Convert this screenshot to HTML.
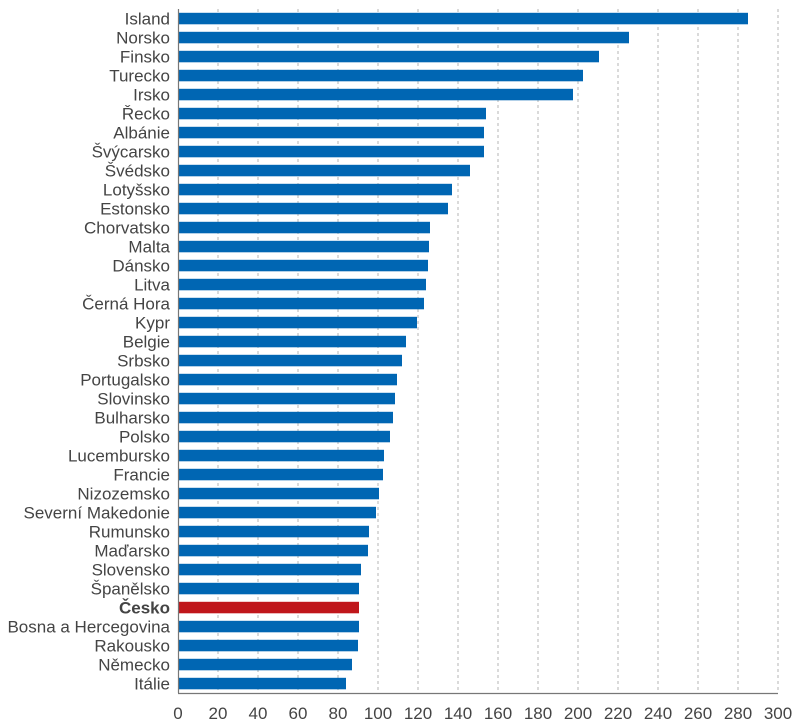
<!DOCTYPE html>
<html><head><meta charset="utf-8"><style>
html,body{margin:0;padding:0;background:#fff;}
svg{display:block;font-family:"Liberation Sans",sans-serif;}
</style></head><body>
<svg width="800" height="724" viewBox="0 0 800 724" xmlns="http://www.w3.org/2000/svg">
<g stroke="#b5b5b5" stroke-width="1" stroke-dasharray="3,3">
<line x1="218" y1="9" x2="218" y2="693"/><line x1="258" y1="9" x2="258" y2="693"/>
<line x1="298" y1="9" x2="298" y2="693"/><line x1="338" y1="9" x2="338" y2="693"/>
<line x1="378" y1="9" x2="378" y2="693"/><line x1="418" y1="9" x2="418" y2="693"/>
<line x1="458" y1="9" x2="458" y2="693"/><line x1="498" y1="9" x2="498" y2="693"/>
<line x1="538" y1="9" x2="538" y2="693"/><line x1="578" y1="9" x2="578" y2="693"/>
<line x1="618" y1="9" x2="618" y2="693"/><line x1="658" y1="9" x2="658" y2="693"/>
<line x1="698" y1="9" x2="698" y2="693"/><line x1="738" y1="9" x2="738" y2="693"/>
<line x1="778" y1="9" x2="778" y2="693"/>
</g>
<g id="bars"></g>
<g id="labels" font-size="17" fill="#444" text-anchor="end"></g>
<line x1="178.5" y1="9" x2="178.5" y2="693" stroke="#777" stroke-width="1.2"/>
<line x1="178" y1="693.5" x2="778" y2="693.5" stroke="#777" stroke-width="1.2"/>
<g font-size="17" fill="#444" text-anchor="middle">
<text x="178" y="719">0</text><text x="218" y="719">20</text><text x="258" y="719">40</text>
<text x="298" y="719">60</text><text x="338" y="719">80</text><text x="378" y="719">100</text>
<text x="418" y="719">120</text><text x="458" y="719">140</text><text x="498" y="719">160</text>
<text x="538" y="719">180</text><text x="578" y="719">200</text><text x="618" y="719">220</text>
<text x="658" y="719">240</text><text x="698" y="719">260</text><text x="738" y="719">280</text>
<text x="778" y="719">300</text>
</g>
<script>
var d=[["Island",285],["Norsko",225.5],["Finsko",210.5],["Turecko",202.5],["Irsko",197.5],["Řecko",154],["Albánie",153],["Švýcarsko",153],["Švédsko",146],["Lotyšsko",137],["Estonsko",135],["Chorvatsko",126],["Malta",125.5],["Dánsko",125],["Litva",124],["Černá Hora",123],["Kypr",119.5],["Belgie",114],["Srbsko",112],["Portugalsko",109.5],["Slovinsko",108.5],["Bulharsko",107.5],["Polsko",106],["Lucembursko",103],["Francie",102.5],["Nizozemsko",100.5],["Severní Makedonie",99],["Rumunsko",95.5],["Maďarsko",95],["Slovensko",91.5],["Španělsko",90.5],["Česko",90.5],["Bosna a Hercegovina",90.5],["Rakousko",90],["Německo",87],["Itálie",84]];
var ns="http://www.w3.org/2000/svg",b=document.getElementById("bars"),l=document.getElementById("labels");
d.forEach(function(r,i){var y=12.8+19.0*i;var c=r[0]=="Česko";
var e=document.createElementNS(ns,"rect");e.setAttribute("x",178);e.setAttribute("y",y);e.setAttribute("width",r[1]*2);e.setAttribute("height",11.5);e.setAttribute("fill",c?"#c0161b":"#0066b3");b.appendChild(e);
var t=document.createElementNS(ns,"text");t.setAttribute("x",170);t.setAttribute("y",y+11.5);t.textContent=r[0];if(c)t.setAttribute("font-weight","bold");l.appendChild(t);});
</script>
</svg>
</body></html>
